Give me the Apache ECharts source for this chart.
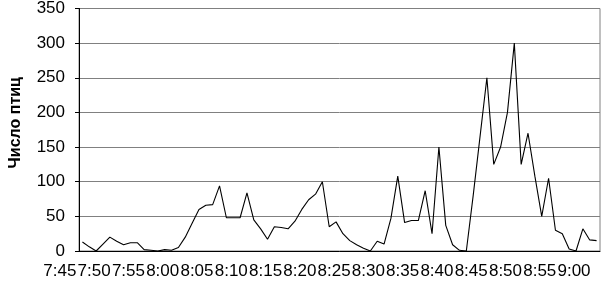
<!DOCTYPE html>
<html>
<head>
<meta charset="utf-8">
<script src="https://cdn.jsdelivr.net/npm/echarts@6/dist/echarts.min.js"></script>
<style>html,body{margin:0;padding:0;background:#fff}#c{width:602px;height:283px}</style>
</head>
<body>
<div id="c"></div>
<script>
// Time categories, one per minute from 7:45 to 9:00
const startHour = 7, startMinute = 45, pointCount = 76;
const categories = [];
for (let i = 0; i < pointCount; i++) {
  const t = startHour * 60 + startMinute + i;
  const h = Math.floor(t / 60), m = t % 60;
  categories.push(h + ':' + (m < 10 ? '0' + m : m));
}
// Bird counts per minute
const birdCounts = [
  13, 6, 0, 10, 20, 14, 9, 12, 12, 2,
  1, 0, 2, 1, 5, 20, 40, 60, 66, 67,
  94, 48, 48, 48, 84, 45, 32, 17, 35, 34,
  32, 43, 60, 74, 82, 100, 35, 42, 25, 15,
  9, 4, 0, 14, 10, 47, 108, 41, 44, 44,
  87, 25, 150, 37, 9, 1, 0, 80, 165, 250,
  125, 150, 200, 300, 125, 170, 108, 50, 105, 30,
  25, 3, 0, 32, 16, 15
];
const yTicks = [0, 50, 100, 150, 200, 250, 300, 350];
const yAxisTitle = 'Число птиц';

const chart = echarts.init(document.getElementById('c'), null, {renderer: 'canvas'});
chart.setOption({
  animation: false,
  backgroundColor: '#fff',
  grid: {left: 68, right: 2, top: 5, bottom: 32, show: true, borderColor: '#808080', borderWidth: 1},
  xAxis: {
    type: 'category',
    data: categories,
    boundaryGap: true,
    axisLine: {lineStyle: {color: '#000', width: 1}},
    axisTick: {interval: 0, length: 4, lineStyle: {color: '#000'}},
    axisLabel: {
      interval: 4, margin: 12, align: 'right', padding: [0, 6, 0, 0],
      color: '#000', fontFamily: 'Liberation Sans', fontSize: 17
    },
    splitLine: {show: false}
  },
  yAxis: {
    type: 'value',
    min: yTicks[0], max: yTicks[yTicks.length - 1], interval: 50,
    name: yAxisTitle,
    nameLocation: 'middle',
    nameGap: 55,
    nameTextStyle: {fontFamily: 'Liberation Sans', fontWeight: 'bold', fontSize: 16, color: '#000', padding: [0, 0, 0, 14]},
    axisLine: {show: true, lineStyle: {color: '#000', width: 1}},
    axisTick: {show: true, length: 4, lineStyle: {color: '#000'}},
    axisLabel: {margin: 14, color: '#000', fontFamily: 'Liberation Sans', fontSize: 17},
    splitLine: {show: true, lineStyle: {color: '#808080', width: 1}}
  },
  series: [{
    type: 'line',
    data: birdCounts,
    symbol: 'none',
    lineStyle: {color: '#000', width: 1.1},
    itemStyle: {color: '#000'}
  }]
});
</script>
</body>
</html>
